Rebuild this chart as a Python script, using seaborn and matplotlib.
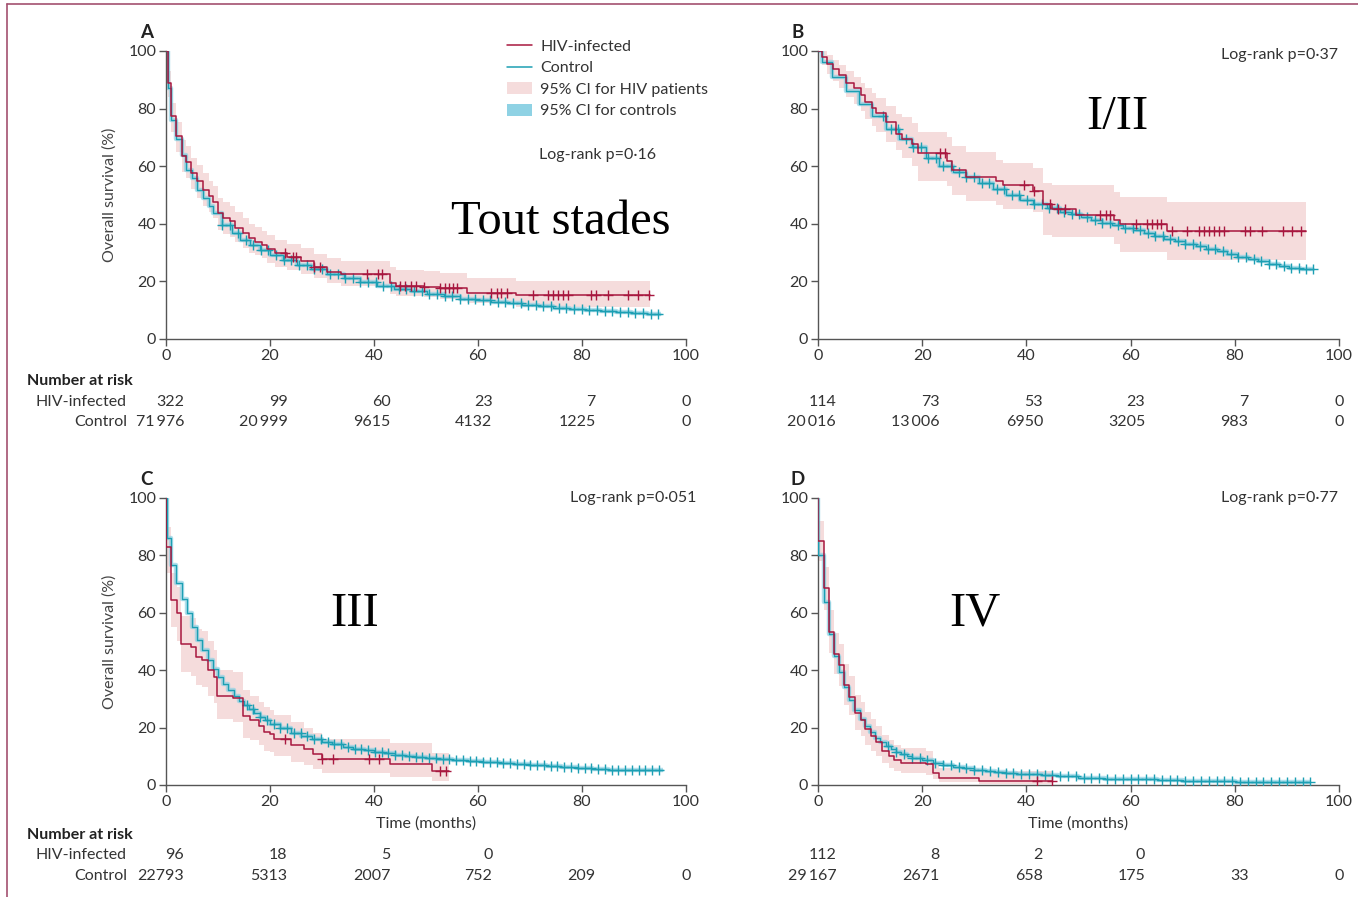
import numpy as np
import matplotlib
matplotlib.use("Agg")
import matplotlib.pyplot as plt
from matplotlib.lines import Line2D
from matplotlib.patches import Patch
import matplotlib.transforms as mtransforms
import seaborn as sns

# ---- panel A : all stages ----
a_hiv_t = [0, 0.3, 1, 2, 3, 3.9, 4.8, 5.9, 7.2, 8.2, 9, 10.1, 11, 12.3, 13.3, 14.9, 15.9, 17.2, 18.5, 19.4, 21, 23.3, 25.9, 28.4, 31, 33.6, 43, 44.2, 49.7, 52.7, 57.9, 67.4]
a_hiv_s = [100, 88.9, 77.3, 70.3, 63.6, 61.6, 57.6, 54.9, 51.8, 49.5, 47.7, 43.7, 41.9, 40.8, 38.7, 36.7, 35, 33.8, 32.7, 31.3, 29.8, 28.4, 26.9, 25.1, 23.4, 22.4, 19.5, 18.5, 18.1, 17.6, 16, 15.1]
a_hiv_lo = [100, 84, 72, 65, 58, 56, 52, 49, 46, 44, 42, 38, 36.5, 35.5, 33.5, 31.5, 30, 29, 28, 26.5, 25, 24, 22.5, 21, 19.5, 18.5, 15.5, 14.8, 14.5, 14, 12.5, 11]
a_hiv_hi = [100, 93, 82, 75.5, 69, 67, 63, 60.5, 57.5, 55, 53, 49, 47.5, 46, 44, 42, 40, 39, 37.5, 36, 34.5, 33, 31.5, 29.5, 28, 27, 25, 24, 23.5, 23, 21, 20]
a_hiv_end = 93
a_hiv_cens = [22.8, 24.4, 25, 28.5, 29.6, 38.7, 40.7, 41.6, 45, 45.9, 47.2, 48, 49.7, 52.8, 53.6, 54.5, 55.2, 56, 62.6, 63.6, 64.5, 65.5, 70.6, 73.5, 74.4, 75.4, 76.3, 77.3, 81.8, 82.8, 85, 88.9, 90.8, 92.9]
a_ctl_t = [0, 0.3, 1, 2, 3, 3.9, 5, 5.9, 7.2, 8.2, 9.1, 10.7, 12.7, 14.3, 16.2, 18.1, 20, 22.6, 25.2, 27.8, 31, 34.2, 37.4, 40.6, 43.9, 47.1, 50.3, 53.5, 56.5, 59.5, 62.5, 65.5, 68.5, 71.5, 74.5, 77.5, 80.5, 83.5, 86.5, 89.5, 92.5]
a_ctl_s = [100, 87, 76, 69.5, 64, 58.7, 55.9, 51.8, 48.9, 46, 43.7, 39.6, 36.7, 34.4, 32.7, 30.9, 29.2, 27.5, 25.7, 24.3, 22.5, 21.1, 19.7, 18.5, 17.4, 16.5, 15.5, 14.8, 14, 13.5, 13, 12.4, 11.9, 11.3, 10.9, 10.5, 10.1, 9.7, 9.3, 8.9, 8.6]
a_ctl_end = 95.3
a_ctl_cens = [10.8, 12.4, 13.9, 15.3, 16.8, 18.2, 19.7, 21.1, 22.7, 24.1, 25.6, 27.1, 28.5, 30, 31.6, 33, 34.5, 36, 37.4, 38.9, 40.4, 41.8, 43.3, 44.8, 46.2, 47.7, 49.2, 50.6, 52.1, 53.6, 55, 56.5, 58, 59.4, 60.9, 62.4, 63.8, 65.3, 66.8, 68.2, 69.7, 71.2, 72.6, 74.1, 75.6, 77, 78.5, 80, 81.4, 82.9, 84.4, 85.8, 87.3, 88.8, 90.2, 91.7, 93.2, 94.6]
a_risk_hiv = ["322", "99", "60", "23", "7", "0"]
a_risk_ctl = ["71\u2009976", "20\u2009999", "9615", "4132", "1225", "0"]

# ---- panel B : stage I/II ----
b_hiv_t = [0, 0.8, 1.7, 2.8, 4, 5.3, 6.9, 8.2, 9.1, 10.3, 11.1, 13, 15, 16.2, 18.1, 19.3, 24.7, 25.7, 28.4, 34.1, 35.5, 41.3, 43.2, 45, 49.6, 56.8, 58, 66.9]
b_hiv_s = [100, 98, 95.6, 93.8, 91.6, 89, 87, 84.6, 82.3, 80.2, 78.3, 75.2, 71, 69.5, 67.8, 64.4, 61.8, 58.5, 56.2, 54.8, 53.3, 51.3, 46.7, 45, 43.2, 41.3, 39.9, 37.5]
b_hiv_lo = [100, 95, 92, 89.5, 87, 84, 81.5, 79, 76.5, 74, 72, 68.5, 65.5, 63, 60, 55, 53, 50, 48, 46.5, 45, 44, 36, 35.5, 35.3, 33, 30.3, 27.4]
b_hiv_hi = [100, 100, 98.5, 97, 95, 93, 91, 89, 87, 85.5, 83.5, 81, 78, 77, 75, 72, 70, 67, 65, 62, 61, 59.5, 54, 53.5, 53.5, 51, 49.4, 47.7]
b_hiv_end = 93.7
b_hiv_cens = [23.4, 24.3, 39.6, 41.5, 44.5, 46, 47.5, 54.2, 55.2, 56, 61, 63.2, 64.2, 65.1, 65.9, 68, 70.9, 73.1, 74.1, 75.1, 76, 77, 77.9, 81.9, 82.9, 85.3, 89.2, 90.9, 92.8]
b_ctl_t = [0, 0.8, 2.7, 5.3, 7.8, 10.4, 13, 15.6, 18.1, 20.7, 23.3, 25.9, 28.4, 31, 33.6, 36.1, 38.7, 41.3, 43.9, 46.5, 48.5, 50.5, 52.5, 54.5, 56.5, 58.5, 60.5, 62.5, 64.5, 66.5, 68.5, 70.5, 72.5, 74.5, 76.5, 78.5, 80.5, 82.5, 84.5, 86.5, 88.5, 90.5, 92.5]
b_ctl_s = [100, 96, 91, 86, 81.5, 77.5, 73, 69.5, 66.5, 63, 60.2, 58, 56.3, 54, 52, 50, 48.3, 46.8, 45.4, 44, 43.4, 42.3, 41.3, 40.3, 39.4, 38.6, 37.8, 36.8, 35.8, 34.8, 34, 33.1, 32.2, 31.3, 30.6, 29.6, 28.6, 27.8, 27, 26.1, 25.3, 24.8, 24.4]
b_ctl_end = 95.3
b_ctl_cens = [12.5, 14, 15.4, 16.9, 18.3, 19.8, 21.2, 22.7, 24.1, 25.6, 27, 28.5, 29.9, 31.4, 32.8, 34.3, 35.7, 37.2, 38.6, 40.1, 41.5, 43, 44.4, 45.9, 47.3, 48.8, 50.2, 51.7, 53.1, 54.6, 56, 57.5, 58.9, 60.4, 61.8, 63.3, 64.7, 66.2, 67.6, 69.1, 70.5, 72, 73.4, 74.9, 76.3, 77.8, 79.2, 80.7, 82.1, 83.6, 85, 86.5, 87.9, 89.4, 90.8, 92.3, 93.7, 95.1]
b_risk_hiv = ["114", "73", "53", "23", "7", "0"]
b_risk_ctl = ["20\u2009016", "13\u2009006", "6950", "3205", "983", "0"]

# ---- panel C : stage III ----
c_hiv_t = [0, 0.1, 0.9, 2.1, 2.9, 4.9, 5.8, 7, 8.1, 9.2, 9.8, 12.8, 14.9, 16.2, 17.8, 18.8, 20.1, 20.7, 24, 26.5, 28.2, 30, 43.1, 51.2]
c_hiv_s = [100, 83, 64.5, 59.8, 49.2, 48, 44.6, 43.6, 40.2, 37.6, 31.1, 30.3, 24, 22.8, 20.7, 18.4, 17.8, 15.9, 13.8, 12.4, 10.9, 9.1, 7.2, 4.9]
c_hiv_lo = [100, 74, 55, 50, 39.5, 38, 35, 34, 31, 28.5, 23, 22, 16.5, 15.5, 14, 12, 11.5, 10, 8, 7, 5.5, 4.3, 2.7, 1.5]
c_hiv_hi = [100, 90, 74, 69, 59, 58, 54.5, 53.5, 50, 47, 40, 39.5, 33, 31, 29, 27, 26, 24.5, 22, 20, 18, 16, 14.5, 11]
c_hiv_end = 54.4
c_hiv_cens = [22.9, 30, 32.1, 39, 40.9, 52.7, 53.8]
c_ctl_t = [0, 0.2, 1, 2, 3, 4, 5, 6, 7, 8, 9, 10, 11, 12, 13, 14, 15, 16, 17, 18, 19, 20, 22, 24, 26, 28, 30, 32, 34, 36, 38, 40, 42, 44, 46, 48, 50, 52, 55, 58, 61, 64, 67, 70, 73, 76, 79, 82, 85, 88, 91]
c_ctl_s = [100, 85.9, 76.6, 70.3, 64.7, 59.8, 55.2, 50.6, 46.9, 43.6, 40.4, 37.6, 35.3, 33.2, 31.1, 29.4, 27.8, 26.3, 24.9, 23.6, 22.5, 21.4, 19.8, 18.2, 17, 16, 15, 14.1, 13.4, 12.7, 12.2, 11.6, 11.1, 10.6, 10.2, 9.8, 9.5, 9.1, 8.8, 8.4, 8, 7.6, 7.3, 6.9, 6.6, 6.3, 5.9, 5.6, 5.3, 5.2, 5.1]
c_ctl_end = 95.5
c_ctl_cens = [15.5, 16.8, 18.1, 19.4, 20.7, 22, 23.3, 24.6, 25.9, 27.2, 28.5, 29.8, 31.1, 32.4, 33.7, 35, 36.3, 37.6, 38.9, 40.2, 41.5, 42.8, 44.1, 45.4, 46.7, 48, 49.3, 50.6, 51.9, 53.2, 54.5, 55.8, 57.1, 58.4, 59.7, 61, 62.3, 63.6, 64.9, 66.2, 67.5, 68.8, 70.1, 71.4, 72.7, 74, 75.3, 76.6, 77.9, 79.2, 80.5, 81.8, 83.1, 84.4, 85.7, 87, 88.3, 89.6, 90.9, 92.2, 93.5, 94.8]
c_risk_hiv = ["96", "18", "5", "0", "", ""]
c_risk_ctl = ["22793", "5313", "2007", "752", "209", "0"]

# ---- panel D : stage IV ----
d_hiv_t = [0, 0.05, 1.1, 2.1, 3, 4, 5, 5.9, 7.2, 8.2, 9.1, 10.1, 11.1, 12.3, 13.6, 14.6, 15.9, 20.7, 22, 23.3, 31]
d_hiv_s = [100, 85.1, 68.5, 53.4, 45.8, 41.7, 34.8, 30.8, 25, 22.6, 19.4, 17.1, 14.8, 11.9, 10.1, 8.7, 7.8, 7.4, 4.2, 2.5, 1.5]
d_hiv_lo = [100, 78, 61, 46, 38.5, 34.5, 28, 24.5, 19, 17, 14, 12, 10, 7.5, 6, 5, 4, 3.5, 2, 1, 0.5]
d_hiv_hi = [100, 92, 76, 61, 53, 49, 42, 38, 31.5, 29, 25.5, 23, 20.5, 17.5, 15.5, 14, 13, 12, 8, 6, 5]
d_hiv_end = 45
d_hiv_cens = [42, 45]
d_ctl_t = [0, 0.05, 1.1, 2.1, 3, 4, 5, 6, 7, 8, 9, 10, 11, 12, 13, 14, 15, 16, 17, 18, 20, 22, 24, 26, 28, 30, 32, 34, 36, 38, 40, 43, 46, 50, 55, 60, 65, 70, 75, 80, 85, 90]
d_ctl_s = [100, 80.2, 63.8, 52.6, 45, 39.5, 34, 29.5, 26, 23, 20.5, 18.3, 16.5, 15, 13.7, 12.5, 11.5, 10.7, 10, 9.3, 8.8, 7.8, 7, 6.3, 5.8, 5.3, 4.9, 4.5, 4.2, 3.9, 3.7, 3.3, 3, 2.6, 2.2, 2, 1.7, 1.5, 1.3, 1.2, 1.1, 1]
d_ctl_end = 94.5
d_ctl_cens = [13.5, 15, 16.5, 18, 19.5, 21, 22.5, 24, 25.5, 27, 28.5, 30, 31.5, 33, 34.5, 36, 37.5, 39, 40.5, 42, 43.5, 45, 46.5, 48, 49.5, 51, 52.5, 54, 55.5, 57, 58.5, 60, 61.5, 63, 64.5, 66, 67.5, 69, 70.5, 72, 73.5, 75, 76.5, 78, 79.5, 81, 82.5, 84, 85.5, 87, 88.5, 90, 91.5, 93, 94.5]
d_risk_hiv = ["112", "8", "2", "0", "", ""]
d_risk_ctl = ["29\u2009167", "2671", "658", "175", "33", "0"]

risk_times = [0, 20, 40, 60, 80, 100]
p_values = ["Log-rank p=0\u00b716", "Log-rank p=0\u00b737", "Log-rank p=0\u00b7051", "Log-rank p=0\u00b777"]
stage_names = ["Tout stades", "I/II", "III", "IV"]
letters = ["A", "B", "C", "D"]

RED = "#a8173f"
TEAL = "#1c9fb3"
PINK = "#f5dcdc"
LBLUE = "#8fd2e4"
GREY = "#333333"
FONTS = ["Lato", "DejaVu Sans"]

sns.set_theme(style="ticks")
plt.rcParams["font.family"] = FONTS
plt.rcParams["axes.unicode_minus"] = False


def steps(t, s, end):
    return list(t) + [end], list(s) + [s[-1]]


def cens_y(t, s, c):
    idx = np.searchsorted(np.array(t), np.array(c), side="right") - 1
    return np.array(s)[idx]


def draw_panel(ax, hiv, ctl, risk_hiv, risk_ctl, letter, stage, pval, ppos, stagepos, left_labels, bottom_row):
    ht, hs, hlo, hhi, hend, hc = hiv
    ct, cs, cend, cc = ctl
    # CI bands
    x, lo = steps(ht, hlo, hend)
    _, hi = steps(ht, hhi, hend)
    ax.fill_between(x, lo, hi, step="post", color=PINK, lw=0, zorder=1)
    x2, y2 = steps(ct, cs, cend)
    ax.step(x2, y2, where="post", color=LBLUE, lw=3.2, alpha=0.7, zorder=2, solid_capstyle="butt")
    # curves
    xh, yh = steps(ht, hs, hend)
    sns.lineplot(x=x2, y=y2, ax=ax, color=TEAL, lw=1.0, drawstyle="steps-post", estimator=None, sort=False, zorder=4)
    sns.lineplot(x=xh, y=yh, ax=ax, color=RED, lw=1.1, drawstyle="steps-post", estimator=None, sort=False, zorder=5)
    ax.plot(cc, cens_y(ct, cs, cc), ls="none", marker="+", ms=7, mew=1.0, color=TEAL, zorder=4)
    ax.plot(hc, cens_y(ht, hs, hc), ls="none", marker="+", ms=7, mew=1.0, color=RED, zorder=5)

    ax.set_xlim(0, 100)
    ax.set_ylim(0, 100)
    ax.set_xticks(risk_times)
    ax.set_yticks([0, 20, 40, 60, 80, 100])
    sns.despine(ax=ax)
    for sp in ["left", "bottom"]:
        ax.spines[sp].set_color("#555555")
        ax.spines[sp].set_linewidth(1.0)
    ax.tick_params(axis="both", direction="out", length=5, width=1, color="#555555",
                   labelsize=11.5, labelcolor=GREY, pad=2)
    ax.set_xlabel("")
    ax.set_ylabel("")
    if left_labels:
        ax.set_ylabel("Overall survival (%)", fontsize=11.5, color="#444444")
        ax.yaxis.set_label_coords(-0.094, 0.5)
    if bottom_row:
        ax.set_xlabel("Time (months)", fontsize=11.5, color=GREY)
        ax.xaxis.set_label_coords(0.5, -0.11)

    ax.text(-0.038, 1.065, letter, transform=ax.transAxes, fontsize=13.5, fontweight="bold",
            color="#222222", ha="center", va="center")
    ax.text(stagepos[0], stagepos[1], stage, transform=ax.transAxes, fontsize=35,
            family="Liberation Serif", color="black", ha="center", va="center")
    ax.text(ppos[0], ppos[1], pval, transform=ax.transAxes, fontsize=11.5, color=GREY,
            ha=ppos[2], va="center")

    # number at risk table
    trans = mtransforms.blended_transform_factory(ax.transData, ax.transAxes)
    if bottom_row:
        yn, y1, y2r = -0.174, -0.244, -0.317
    else:
        yn, y1, y2r = -0.146, -0.219, -0.288
    if left_labels:
        ax.text(-0.267, yn, "Number at risk", transform=ax.transAxes, fontsize=11.5,
                fontweight="bold", color="#222222", ha="left", va="center")
        ax.text(-0.075, y1, "HIV-infected", transform=ax.transAxes, fontsize=11.5, color=GREY, ha="right", va="center")
        ax.text(-0.075, y2r, "Control", transform=ax.transAxes, fontsize=11.5, color=GREY, ha="right", va="center")
    offs = [3.5, 3.4, 3.2, 2.8, 2.6, 0]
    for i, tt in enumerate(risk_times):
        ha = "center" if tt == 100 else "right"
        ax.text(tt + offs[i], y1, risk_hiv[i], transform=trans, fontsize=11.5, color=GREY,
                ha=ha, va="center")
        ax.text(tt + offs[i], y2r, risk_ctl[i], transform=trans, fontsize=11.5, color=GREY,
                ha=ha, va="center")


fig = plt.figure(figsize=(13.58, 8.97), dpi=100)
axA = fig.add_axes([0.1222, 0.6221, 0.3829, 0.3211])
axB = fig.add_axes([0.6023, 0.6221, 0.3837, 0.3211])
axC = fig.add_axes([0.1222, 0.1249, 0.3829, 0.3200])
axD = fig.add_axes([0.6023, 0.1249, 0.3837, 0.3200])

draw_panel(axA, (a_hiv_t, a_hiv_s, a_hiv_lo, a_hiv_hi, a_hiv_end, a_hiv_cens),
           (a_ctl_t, a_ctl_s, a_ctl_end, a_ctl_cens), a_risk_hiv, a_risk_ctl,
           letters[0], stage_names[0], p_values[0], (0.717, 0.639, "left"), (0.76, 0.406), True, False)
draw_panel(axB, (b_hiv_t, b_hiv_s, b_hiv_lo, b_hiv_hi, b_hiv_end, b_hiv_cens),
           (b_ctl_t, b_ctl_s, b_ctl_end, b_ctl_cens), b_risk_hiv, b_risk_ctl,
           letters[1], stage_names[1], p_values[1], (0.998, 0.985, "right"), (0.574, 0.771), False, False)
draw_panel(axC, (c_hiv_t, c_hiv_s, c_hiv_lo, c_hiv_hi, c_hiv_end, c_hiv_cens),
           (c_ctl_t, c_ctl_s, c_ctl_end, c_ctl_cens), c_risk_hiv, c_risk_ctl,
           letters[2], stage_names[2], p_values[2], (1.021, 1.0, "right"), (0.362, 0.596), True, True)
draw_panel(axD, (d_hiv_t, d_hiv_s, d_hiv_lo, d_hiv_hi, d_hiv_end, d_hiv_cens),
           (d_ctl_t, d_ctl_s, d_ctl_end, d_ctl_cens), d_risk_hiv, d_risk_ctl,
           letters[3], stage_names[3], p_values[3], (0.998, 1.0, "right"), (0.301, 0.596), False, True)

# legend in panel A
handles = [Line2D([], [], color=RED, lw=1.1), Line2D([], [], color=TEAL, lw=1.1),
           Patch(facecolor=PINK, edgecolor="none"), Patch(facecolor=LBLUE, edgecolor="none")]
labels = ["HIV-infected", "Control", "95% CI for HIV patients", "95% CI for controls"]
leg = axA.legend(handles, labels, loc="upper left", bbox_to_anchor=(0.655, 1.04), frameon=False,
                 fontsize=11.5, handlelength=1.6, handleheight=0.8, handletextpad=0.5,
                 labelspacing=0.42, borderpad=0, borderaxespad=0)
for txt in leg.get_texts():
    txt.set_color(GREY)

# thin frame around figure
fig.add_artist(Line2D([0.005, 1.0], [0.9955, 0.9955], transform=fig.transFigure, color="#a3506f", lw=1.2))
fig.add_artist(Line2D([0.005, 0.005], [0.0, 0.9955], transform=fig.transFigure, color="#a3506f", lw=1.2))

fig.savefig("out.png", dpi=100)
